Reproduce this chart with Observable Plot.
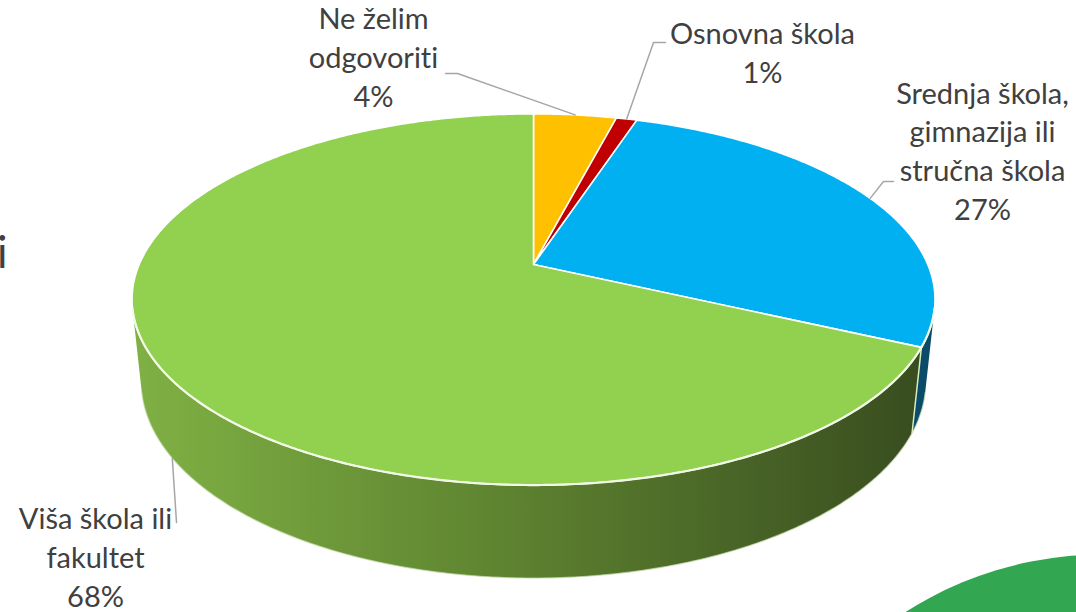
<!DOCTYPE html>
<html><head><meta charset="utf-8">
<script src="https://cdn.jsdelivr.net/npm/d3@7"></script>
<script src="https://cdn.jsdelivr.net/npm/@observablehq/plot@0.6"></script>
<style>html,body{margin:0;padding:0;background:#fff;overflow:hidden} svg text{font-variant-ligatures:none;font-feature-settings:"liga" 0,"clig" 0;}</style>
</head><body><div id="chart"></div>
<script>
// ---- data ----
const categories = ["Ne želim\nodgovoriti", "Osnovna škola", "Srednja škola,\ngimnazija ili\nstručna škola", "Viša škola ili\nfakultet"];
const values = [4, 1, 27, 68];
const percentLabels = ["4%", "1%", "27%", "68%"];
const topColors = ["#ffc000", "#c00000", "#00b0f0", "#92d050"];
const sideColors = ["#8a6800", "#6a0000", "#0a4b6a", "url(#greenSide)"];

// ---- layout (label anchors: last-line baseline, leader start) ----
const labelPos = [[373, 106], [762, 82], [982, 219], [95, 606]];
const leaderStart = [[445, 73, 457], [665, 42, 653], [893, 181, 883], [176, 522, 176]];

const W = 1076, H = 612;
const cx = 533, cy = 264, f = 1865, D = 4.73, phi = 27 * Math.PI / 180, depth = 0.235;
function proj(theta, hgt) {
  const X = Math.sin(theta), Z = Math.cos(theta);
  const v = Z * Math.sin(phi) + hgt * Math.cos(phi);
  const d = D + Z * Math.cos(phi) - hgt * Math.sin(phi);
  return {x: cx + f * X / d, y: cy - f * v / d};
}
const arcs = d3.pie().sort(null).value(d => d).startAngle(0).endAngle(2 * Math.PI)(values);
const t1 = Math.acos(-1 / (D * Math.cos(phi))), t2 = 2 * Math.PI - t1;
const step = Math.PI / 360;
function arcPts(a, b, hgt) {
  const n = Math.max(2, Math.ceil(Math.abs(b - a) / step));
  return d3.range(n + 1).map(i => proj(a + (b - a) * i / n, hgt));
}

const topPolys = arcs.map((a, i) => [{x: cx, y: cy}, ...arcPts(a.startAngle, a.endAngle, 0)].map(p => ({...p, k: i})));
const sidePolys = [];
arcs.forEach((a, i) => {
  const s = Math.max(a.startAngle, t1), e = Math.min(a.endAngle, t2);
  if (e > s) sidePolys.push({i, pts: [...arcPts(s, e, 0), ...arcPts(e, s, -depth)]});
});
const sideEdges = arcs.filter(a => a.startAngle > t1 && a.startAngle < t2).map(a => [proj(a.startAngle, 0), proj(a.startAngle, -depth)]);
const rim = arcPts(t1, t2, 0);
const bottomRim = arcPts(t1, t2, -depth);

const labels = arcs.map((a, i) => ({x: labelPos[i][0], y: labelPos[i][1], text: categories[i] + "\n" + percentLabels[i]}));
const leaders = arcs.map((a, i) => {
  const mid = (a.startAngle + a.endAngle) / 2;
  const end = (mid > t1 && mid < t2) ? proj(mid, -depth) : proj(mid, 0);
  const [sx, sy, ex] = leaderStart[i];
  return [{x: sx, y: sy}, {x: ex, y: sy}, end];
});

const chart = Plot.plot({
  width: W, height: H, margin: 0,
  x: {type: "identity", axis: null},
  y: {type: "identity", axis: null},
  style: {background: "white"},
  marks: [
    Plot.dot([{x: 1102, y: 920}], {x: "x", y: "y", r: 366, fill: "#33a652", stroke: null, fillOpacity: 1}),
    ...sidePolys.map(s => Plot.line(s.pts, {x: "x", y: "y", curve: "linear-closed", fill: sideColors[s.i], stroke: null})),
    Plot.line(bottomRim, {x: "x", y: "y", stroke: "#c8dcae", strokeWidth: 1.2, strokeOpacity: 0.7}),
    ...sideEdges.map(e => Plot.line(e, {x: "x", y: "y", stroke: "#d8ecc0", strokeWidth: 1.5})),
    ...topPolys.map((p, i) => Plot.line(p, {x: "x", y: "y", curve: "linear-closed", fill: topColors[i], stroke: "#ffffff", strokeWidth: 1.6, strokeLinejoin: "round"})),
    Plot.line(rim, {x: "x", y: "y", stroke: "#f2f9e6", strokeWidth: 2.2}),
    ...leaders.map(l => Plot.line(l, {x: "x", y: "y", stroke: "#a6a6a6", strokeWidth: 1.5})),
    Plot.text(labels, {x: "x", y: "y", text: "text", textAnchor: "middle", lineAnchor: "bottom", lineHeight: 1.33, fontSize: 29, fontFamily: "Lato", fill: "#404040"}),
    Plot.text([{x: -3.5, y: 267, t: "i"}], {x: "x", y: "y", text: "t", textAnchor: "start", lineAnchor: "bottom", fontSize: 44, fontFamily: "Lato", fill: "#404040"})
  ]
});
d3.select(chart).insert("defs", ":first-child").html(
  `<linearGradient id="greenSide" gradientUnits="userSpaceOnUse" x1="130" y1="0" x2="925" y2="0">
     <stop offset="0" stop-color="#80b144"/>
     <stop offset="0.45" stop-color="#5f8531"/>
     <stop offset="1" stop-color="#384c1f"/>
   </linearGradient>`);
document.getElementById("chart").appendChild(chart);
</script>
</body></html>
